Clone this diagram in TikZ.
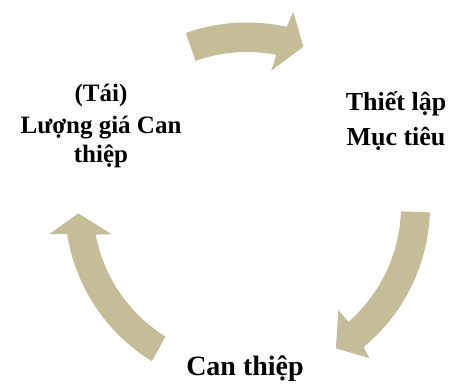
\documentclass[tikz,border=0pt]{standalone}
\usepackage{fontspec}
\setmainfont{Liberation Serif}
\begin{document}
\begin{tikzpicture}[x=1pt,y=1pt,
  cyclearrow/.style={fill={rgb,255:red,196;green,189;blue,151}, draw=none},
  lbl/.style={font=\bfseries\fontsize{25}{29}\selectfont, align=center, inner sep=0pt}]
\useasboundingbox (0,0) rectangle (449,-385);
\begin{scope}[shift={(247,-206)}]
  % top arrow
  \path[cyclearrow] (109.5:183.5) arc[start angle=109.5,end angle=77.5,radius=183.5]
    -- (76.6:199.7) -- (70.5:169) -- (79.9:137.4) -- (79:154)
    arc[start angle=79,end angle=109.5,radius=154] -- cycle;
  % right arrow
  \path[cyclearrow] (-2:183) arc[start angle=-2,end angle=-50.4,radius=183]
    -- (-51.2:195.3) -- (-58:167.8) -- (-48.7:138.4) -- (-48.8:154)
    arc[start angle=-48.8,end angle=-2,radius=154] -- cycle;
  % left arrow
  \path[cyclearrow] (238.5:182) arc[start angle=238.5,end angle=188.8,radius=182]
    -- (188.1:199.7) -- (182.5:168.9) -- (191.8:138.2) -- (190.7:154)
    arc[start angle=190.7,end angle=238,radius=154] -- cycle;
\end{scope}
\node[lbl, font=\bfseries\fontsize{26}{30}\selectfont] (goal) at (396,-121) {Thiết lập\\[5pt]Mục tiêu};
\node[lbl] (eval) at (101,-126) {(Tái)\\[3pt]Lượng giá Can\\thiệp};
\node[lbl, font=\bfseries\fontsize{28}{32}\selectfont] (interv) at (245,-369) {Can thiệp};
\end{tikzpicture}
\end{document}
